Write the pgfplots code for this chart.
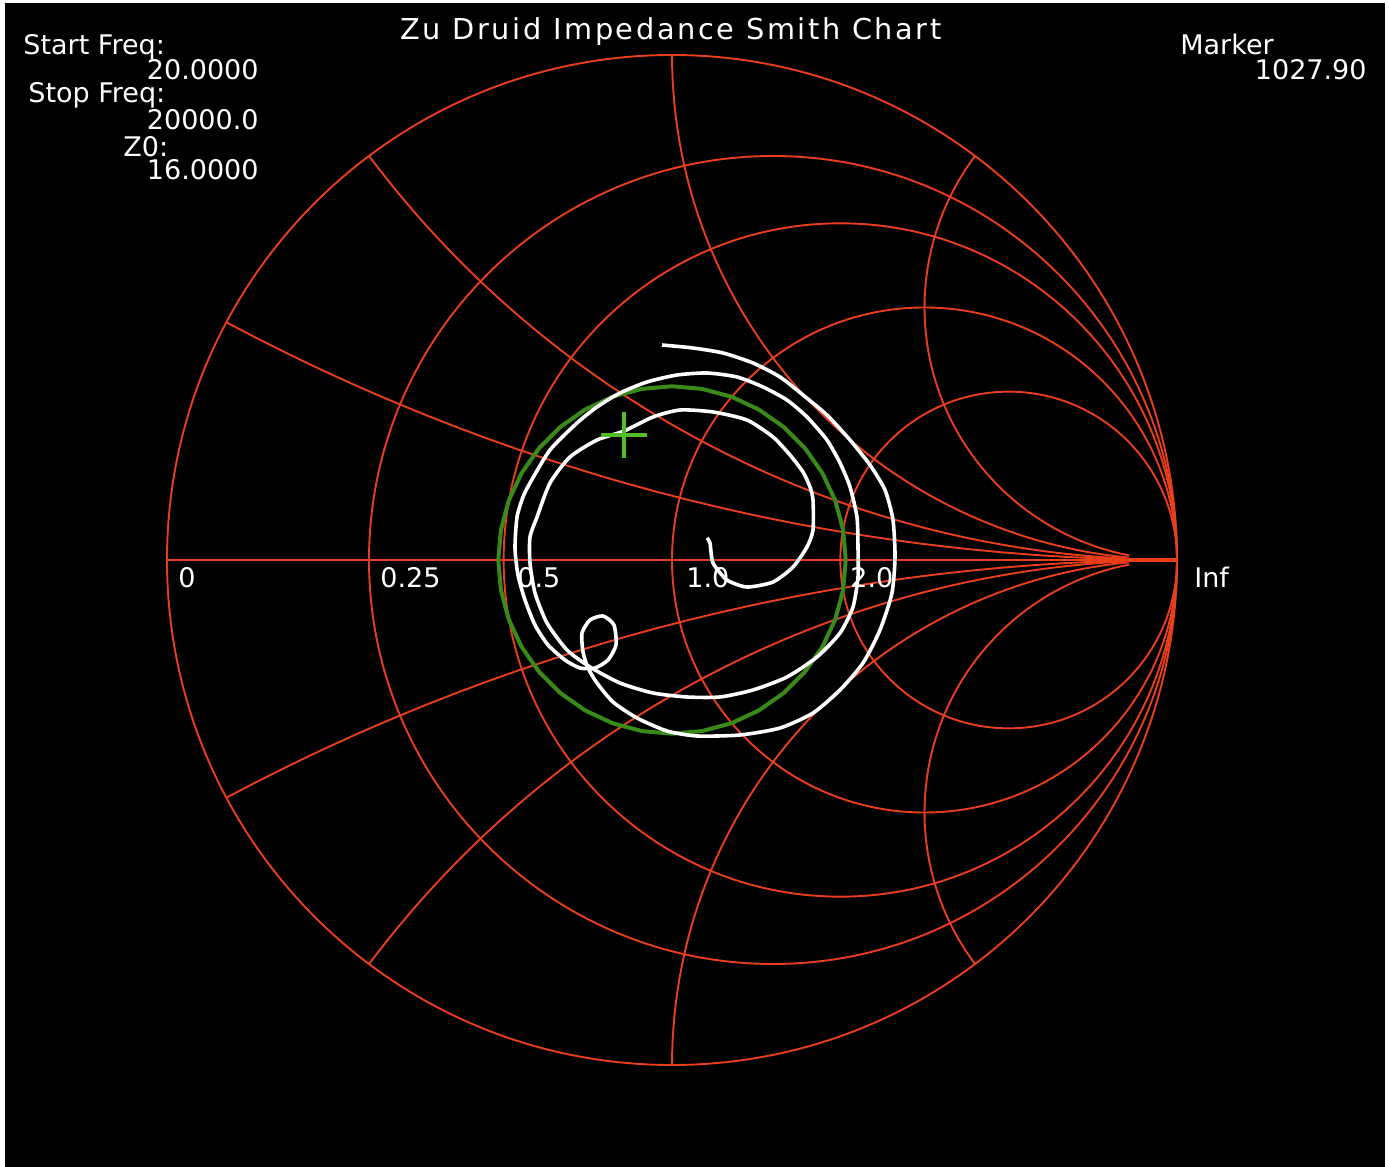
\documentclass[border=0pt]{standalone}
\usepackage{pgfplots}
\pgfplotsset{compat=1.18}
\usepackage{fontspec}
\setmainfont{DejaVu Sans}
\newfontfamily\titlefont[LetterSpace=9]{DejaVu Sans}
\definecolor{gridred}{RGB}{232,62,28}
\definecolor{vswrgreen}{RGB}{58,138,26}
\definecolor{markgreen}{RGB}{80,190,40}
\begin{document}
\begin{tikzpicture}
\begin{axis}[
  scale only axis, width=694.5pt, height=583.5pt,
  xmin=-1.33069, xmax=1.41980, ymin=-1.20198, ymax=1.10891,
  hide axis, clip=false,
]
\fill[white] (-1.33069,-1.20198) rectangle (1.41980,1.10891);
\fill[black] (-1.32079,-1.20198) rectangle (1.41188,1.10297);
\begin{scope}[draw=gridred, line width=0.95pt]
% resistance circles
\draw (0,0) circle[radius=1];
\draw (0.2,0) circle[radius=0.8];
\draw (0.33333,0) circle[radius=0.66667];
\draw (0.5,0) circle[radius=0.5];
\draw (0.66667,0) circle[radius=0.33333];
\draw (-1,0) -- (1,0);
\draw[line width=1.8pt] (0.905,0) -- (1,0);
% reactance arcs (r from 0 to 20)
\draw plot[domain=241.93:268.64, samples=60, variable=\t] ({1+4*cos(\t)},{4+4*sin(\t)});
\draw plot[domain=216.87:267.27, samples=60, variable=\t] ({1+2*cos(\t)},{2+2*sin(\t)});
\draw plot[domain=180:264.55, samples=60, variable=\t] ({1+cos(\t)},{1+sin(\t)});
\draw plot[domain=143.13:259.12, samples=60, variable=\t] ({1+0.5*cos(\t)},{0.5+0.5*sin(\t)});
\draw plot[domain=241.93:268.64, samples=60, variable=\t] ({1+4*cos(\t)},{-4-4*sin(\t)});
\draw plot[domain=216.87:267.27, samples=60, variable=\t] ({1+2*cos(\t)},{-2-2*sin(\t)});
\draw plot[domain=180:264.55, samples=60, variable=\t] ({1+cos(\t)},{-1-sin(\t)});
\draw plot[domain=143.13:259.12, samples=60, variable=\t] ({1+0.5*cos(\t)},{-0.5-0.5*sin(\t)});
\end{scope}
% texts
\begin{scope}[every node/.style={white, inner sep=0pt, font=\fontsize{13.5}{15}\selectfont}]
\node[anchor=base] at (-0.002,1.0297) {\fontsize{14.4}{16}\titlefont Zu Druid Impedance Smith Chart};
\node[anchor=base west] at (-1.2851,1.0000) {Start Freq:};
\node[anchor=base east] at (-0.8178,0.9505) {20.0000};
\node[anchor=base west] at (-1.2752,0.9050) {Stop Freq:};
\node[anchor=base east] at (-0.8178,0.8515) {20000.0};
\node[anchor=base west] at (-1.0871,0.7980) {Z0:};
\node[anchor=base east] at (-0.8178,0.7525) {16.0000};
\node[anchor=base west] at (1.0059,1.0000) {Marker};
\node[anchor=base east] at (1.3762,0.9505) {1027.90};
\node[anchor=base west] at (-0.97822,-0.0535) {0};
\node[anchor=base west] at (-0.57822,-0.0535) {0.25};
\node[anchor=base west] at (-0.30693,-0.0535) {0.5};
\node[anchor=base west] at (0.02772,-0.0535) {1.0};
\node[anchor=base west] at (0.35248,-0.0535) {2.0};
\node[anchor=base west] at (1.03366,-0.0535) {Inf};
\end{scope}
% VSWR circle
\addplot[vswrgreen, line width=2pt, mark=none] coordinates {
(0.344,0) (0.3388,0.0597) (0.3233,0.1176) (0.2979,0.172) (0.2635,0.2211) (0.2211,0.2635)
(0.172,0.2979) (0.1176,0.3233) (0.0597,0.3388) (0,0.344) (-0.0597,0.3388) (-0.1176,0.3233)
(-0.172,0.2979) (-0.2211,0.2635) (-0.2635,0.2211) (-0.2979,0.172) (-0.3233,0.1176) (-0.3388,0.0597)
(-0.344,0) (-0.3388,-0.0597) (-0.3233,-0.1176) (-0.2979,-0.172) (-0.2635,-0.2211) (-0.2211,-0.2635)
(-0.172,-0.2979) (-0.1176,-0.3233) (-0.0597,-0.3388) (0,-0.344) (0.0597,-0.3388) (0.1176,-0.3233)
(0.172,-0.2979) (0.2211,-0.2635) (0.2635,-0.2211) (0.2979,-0.172) (0.3233,-0.1176) (0.3388,-0.0597)
(0.344,0)
};
% impedance trace
\addplot[white, line width=1.8pt, mark=none, line join=round, smooth, tension=0.4] coordinates {
(-0.0198,0.4257) (0.0416,0.4198) (0.1010,0.4099) (0.1604,0.3901) (0.2139,0.3624) (0.2594,0.3267)
(0.3069,0.2871) (0.3525,0.2376) (0.3921,0.1881) (0.4218,0.1386) (0.4376,0.0792) (0.4416,0.0059)
(0.4356,-0.0653) (0.4119,-0.1386) (0.3782,-0.2040) (0.3327,-0.2574) (0.2792,-0.3030) (0.2139,-0.3327)
(0.1347,-0.3465) (0.0495,-0.3485) (-0.0099,-0.3386) (-0.0693,-0.3129) (-0.1168,-0.2812) (-0.1485,-0.2436)
(-0.1663,-0.2139) (-0.1762,-0.1822) (-0.1782,-0.1446) (-0.1624,-0.1188) (-0.1366,-0.1109) (-0.1149,-0.1287)
(-0.1109,-0.1683) (-0.1267,-0.1980) (-0.1525,-0.2139) (-0.1822,-0.2139) (-0.2119,-0.1980) (-0.2455,-0.1683)
(-0.2713,-0.1287) (-0.2911,-0.0792) (-0.3050,-0.0297) (-0.3109,0.0238) (-0.3069,0.0851) (-0.2950,0.1248)
(-0.2812,0.1525) (-0.2416,0.2178) (-0.1881,0.2713) (-0.1485,0.3030) (-0.1030,0.3307) (-0.0495,0.3525)
(0.0099,0.3663) (0.0693,0.3703) (0.1287,0.3624) (0.1802,0.3426) (0.2277,0.3168) (0.2673,0.2832)
(0.3069,0.2376) (0.3327,0.1921) (0.3525,0.1446) (0.3663,0.0851) (0.3683,0.0257) (0.3683,-0.0337)
(0.3584,-0.0931) (0.3327,-0.1446) (0.2871,-0.1921) (0.2277,-0.2317) (0.1604,-0.2574) (0.0950,-0.2713)
(0.0297,-0.2713) (-0.0376,-0.2634) (-0.1030,-0.2436) (-0.1624,-0.2119) (-0.2079,-0.1782) (-0.2475,-0.1248)
(-0.2713,-0.0653) (-0.2812,-0.0059) (-0.2812,0.0455) (-0.2673,0.0851) (-0.2416,0.1525) (-0.2020,0.2040)
(-0.1485,0.2376) (-0.0950,0.2554) (-0.0376,0.2832) (0.0158,0.2970) (0.0812,0.2931) (0.1485,0.2772)
(0.2000,0.2436) (0.2337,0.2079) (0.2594,0.1743) (0.2733,0.1446) (0.2792,0.1188) (0.2792,0.0594)
(0.2673,0.0257) (0.2396,-0.0139) (0.2000,-0.0436) (0.1485,-0.0535) (0.1089,-0.0396) (0.0812,-0.0059)
(0.0752,0.0337) (0.0693,0.0436)
};
% marker
\addplot[markgreen, only marks, mark=+, mark size=11.5pt, mark options={line width=2.2pt}] coordinates {(-0.095,0.2475)};
\end{axis}
\end{tikzpicture}
\end{document}
